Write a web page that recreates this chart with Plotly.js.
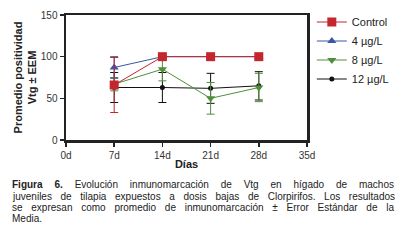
<!DOCTYPE html>
<html><head><meta charset="utf-8">
<script src="https://cdn.plot.ly/plotly-3.0.1.min.js"></script>
<style>html,body{margin:0;padding:0;background:#fff;}#chart{width:405px;height:240px;}</style>
</head><body><div id="chart"></div>
<script>
var days = [7, 14, 21, 28];
var tickVals = [0, 7, 14, 21, 28, 35];
var tickText = ["0d", "7d", "14d", "21d", "28d", "35d"];
var seriesNames = ["Control", "4 µg/L", "8 µg/L", "12 µg/L"];
var control = [66, 100, 100, 100];
var controlErr = [33, 0, 0, 0];
var dose4 = [87, 100, 100, 100];
var dose4Err = [13, 0, 0, 0];
var dose8 = [67, 85, 50, 63];
var dose8Err = [8, 14, 19, 17];
var dose12 = [63, 63, 62, 65];
var dose12Err = [18, 18, 18, 17];
var captionLines = [
  "<b>Figura 6.</b> Evolución inmunomarcación de Vtg en hígado de machos",
  "juveniles de tilapia expuestos a dosis bajas de Clorpirifos. Los resultados",
  "se expresan como promedio de inmunomarcación ± Error Estándar de la",
  "Media."
];

function mk(name, y, err, color, symbol, size) {
  return {
    x: days, y: y, name: name, type: 'scatter', mode: 'lines+markers',
    line: {color: color, width: 1},
    marker: {color: color, symbol: symbol, size: size},
    error_y: {type: 'data', array: err, visible: true, color: color, thickness: 1, width: 4}
  };
}
var traces = [
  mk(seriesNames[3], dose12, dose12Err, '#111111', 'circle', 5),
  mk(seriesNames[2], dose8, dose8Err, '#4e8f3a', 'triangle-down', 8),
  mk(seriesNames[1], dose4, dose4Err, '#3a56a5', 'triangle-up', 8),
  mk(seriesNames[0], control, controlErr, '#c4262e', 'square', 9)
];

var L = 66, R = 307, T = 15, B = 140;
function px2x(p) { return (p - L) / (R - L); }
function py2y(p) { return (B - p) / (B - T); }
var lineY = [185, 196, 207, 218];
var annotations = captionLines.map(function (t, i) {
  return {
    text: t, xref: 'paper', yref: 'paper', x: px2x(10), y: py2y(lineY[i]),
    xanchor: 'left', yanchor: 'middle', showarrow: false, align: 'left',
    font: {family: 'Liberation Sans, Arial, sans-serif', size: 10, color: '#222'}
  };
});

var layout = {
  width: 405, height: 240,
  margin: {l: L, r: 405 - R, t: T, b: 240 - B, autoexpand: false},
  paper_bgcolor: '#fff', plot_bgcolor: '#fff',
  font: {family: 'Liberation Sans, Arial, sans-serif', color: '#222', size: 10},
  showlegend: true,
  legend: {x: 1.02, y: 1.06, xanchor: 'left', yanchor: 'top', traceorder: 'reversed',
    font: {size: 11, color: '#222'}, tracegroupgap: 0, itemwidth: 30},
  xaxis: {
    range: [0, 35], tickvals: tickVals, ticktext: tickText,
    showline: true, linecolor: '#222', linewidth: 2.5, mirror: true,
    ticks: 'outside', ticklen: 4, tickwidth: 1.5, tickcolor: '#222',
    showgrid: false, zeroline: false,
    tickfont: {size: 10, color: '#333'},
    title: {text: '<b>Días</b>', font: {size: 11, color: '#222'}, standoff: 1}
  },
  yaxis: {
    range: [0, 150], dtick: 50,
    showline: true, linecolor: '#222', linewidth: 2.5, mirror: true,
    ticks: 'outside', ticklen: 4, tickwidth: 1.5, tickcolor: '#222',
    showgrid: false, zeroline: false,
    tickfont: {size: 10, color: '#333'},
    title: {text: '<b>Promedio positividad<br>Vtg ± EEM</b>', font: {size: 11, color: '#222'}, standoff: 2}
  },
  annotations: annotations
};

Plotly.newPlot('chart', traces, layout, {displayModeBar: false, staticPlot: true}).then(function () {
  var texts = document.querySelectorAll('.annotation-text');
  var target = 382;
  for (var i = 0; i < texts.length && i < 3; i++) {
    var el = texts[i];
    var w = el.getComputedTextLength();
    var spaces = (el.textContent.match(/ /g) || []).length;
    if (spaces > 0) {
      el.style.wordSpacing = ((target - w) / spaces) + 'px';
    }
  }
});
</script>
</body></html>
